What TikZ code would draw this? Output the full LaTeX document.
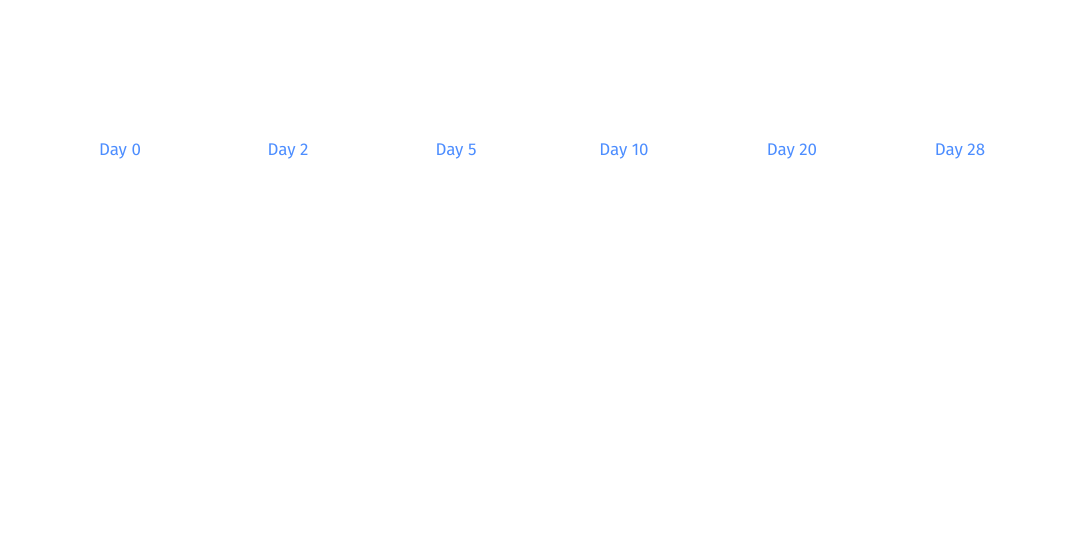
\documentclass[tikz,border=0pt]{standalone}
\usepackage{fontspec}
\setmainfont{Fira Sans}
\definecolor{daycol}{HTML}{4C8DFF}
\begin{document}
\begin{tikzpicture}[
        x=1bp, y=1bp,
        day/.style={text=daycol, font=\fontsize{17}{20}\selectfont, inner sep=0pt}
    ]
    \useasboundingbox (0, 0) rectangle (1080, 540);
    % Tage
    \node[day] (d0) at (120, 389) {Day 0};
    \node[day] (d2) at (288, 389) {Day 2};
    \node[day] (d5) at (456, 389) {Day 5};
    \node[day] (d10) at (624, 389) {Day 10};
    \node[day] (d20) at (792, 389) {Day 20};
    \node[day] (d28) at (960, 389) {Day 28};
\end{tikzpicture}
\end{document}
